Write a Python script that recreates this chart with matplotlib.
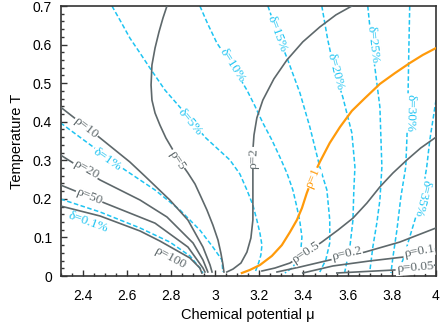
import numpy as np
import matplotlib
matplotlib.use("Agg")
import matplotlib.pyplot as plt
from matplotlib.ticker import MultipleLocator

# iso-density lines rho = const, (mu, T)
rho100_mu = [2.30, 2.479, 2.66, 2.75, 2.886, 2.931, 2.94]
rho100_T = [0.1815, 0.1556, 0.1167, 0.0907, 0.0467, 0.0207, 0.0078]
rho50_mu = [2.30, 2.501, 2.728, 2.877, 2.945, 2.954]
rho50_T = [0.236, 0.189, 0.137, 0.075, 0.0207, 0.0104]
rho20_mu = [2.30, 2.479, 2.66, 2.782, 2.90, 2.945, 2.967]
rho20_T = [0.3137, 0.249, 0.197, 0.153, 0.0856, 0.0415, 0.0104]
rho10_mu = [2.30, 2.479, 2.614, 2.682, 2.795, 2.877, 2.945, 2.977, 2.986]
rho10_T = [0.438, 0.358, 0.2956, 0.259, 0.197, 0.145, 0.075, 0.0285, 0.0104]
rho5_mu = [2.782, 2.764, 2.746, 2.728, 2.714, 2.71, 2.714, 2.728, 2.75, 2.777,
           2.809, 2.845, 2.877, 2.909, 2.936, 2.963, 2.99, 3.013, 3.026, 3.035, 3.04]
rho5_T = [0.70, 0.669, 0.633, 0.591, 0.547, 0.495, 0.456, 0.4226, 0.3915, 0.358,
          0.3267, 0.293, 0.267, 0.2385, 0.205, 0.171, 0.132, 0.0933, 0.0596, 0.0311, 0.0104]
rho2_mu = [3.619, 3.547, 3.474, 3.397, 3.325, 3.266, 3.216, 3.189, 3.176, 3.171,
           3.171, 3.171, 3.171, 3.162, 3.144, 3.117, 3.081, 3.053]
rho2_T = [0.70, 0.677, 0.6456, 0.607, 0.56, 0.511, 0.456, 0.41, 0.3656, 0.3267,
          0.262, 0.197, 0.145, 0.0985, 0.062, 0.0337, 0.018, 0.0104]
rho1_mu = [3.121, 3.157, 3.203, 3.257, 3.302, 3.339, 3.370, 3.393, 3.415, 3.443,
           3.474, 3.519, 3.565, 3.619, 3.678, 3.746, 3.814, 3.881, 3.940, 4.0]
rho1_T = [0.0078, 0.0156, 0.0285, 0.052, 0.080, 0.114, 0.145, 0.176, 0.215, 0.257,
          0.2956, 0.345, 0.386, 0.428, 0.461, 0.498, 0.526, 0.552, 0.573, 0.591]
rho05_mu = [3.212, 3.271, 3.339, 3.411, 3.483, 3.556, 3.624, 3.687, 3.746, 3.805,
            3.868, 3.931, 4.0]
rho05_T = [0.013, 0.0207, 0.0337, 0.0596, 0.088, 0.119, 0.150, 0.189, 0.231, 0.267,
           0.3007, 0.332, 0.360]
rho02_mu = [3.28, 3.384, 3.519, 3.678, 3.836, 4.0]
rho02_T = [0.0104, 0.0233, 0.0415, 0.062, 0.088, 0.1245]
rho01_mu = [3.397, 3.533, 3.70, 3.85, 4.0]
rho01_T = [0.0078, 0.026, 0.039, 0.049, 0.070]
rho005_mu = [3.551, 3.814, 4.0]
rho005_T = [0.0078, 0.0156, 0.0285]

# delta = const lines
d01_mu = [2.30, 2.479, 2.66, 2.795, 2.886, 2.931, 2.945]
d01_T = [0.1996, 0.166, 0.1245, 0.088, 0.052, 0.0207, 0.0078]
d1_mu = [2.30, 2.435, 2.592, 2.728, 2.841, 2.931, 2.99, 3.031, 3.035]
d1_T = [0.397, 0.340, 0.275, 0.223, 0.171, 0.119, 0.075, 0.0415, 0.0104]
d5_mu = [2.533, 2.574, 2.614, 2.66, 2.705, 2.773, 2.841, 2.895, 2.954, 3.013,
         3.067, 3.112, 3.144, 3.171, 3.189, 3.203, 3.212, 3.207, 3.198, 3.18]
d5_T = [0.70, 0.6585, 0.617, 0.578, 0.539, 0.482, 0.4375, 0.402, 0.360, 0.329,
        0.3007, 0.2645, 0.223, 0.184, 0.145, 0.111, 0.080, 0.054, 0.036, 0.0078]
d10_mu = [2.931, 2.967, 3.008, 3.076, 3.144, 3.18, 3.216, 3.257, 3.293, 3.325,
          3.352, 3.37, 3.384, 3.393, 3.388, 3.375, 3.348, 3.316]
d10_T = [0.70, 0.653, 0.604, 0.547, 0.482, 0.441, 0.397, 0.3526, 0.3085, 0.267,
         0.223, 0.179, 0.140, 0.101, 0.0674, 0.0415, 0.0207, 0.0078]
d15_mu = [3.239, 3.284, 3.329, 3.384, 3.429, 3.474, 3.506, 3.519, 3.519, 3.501, 3.474]
d15_T = [0.70, 0.625, 0.56, 0.4745, 0.386, 0.2826, 0.223, 0.145, 0.0856, 0.0415, 0.0104]
d20_mu = [3.483, 3.51, 3.542, 3.578, 3.619, 3.633, 3.628, 3.624, 3.61, 3.587]
d20_T = [0.70, 0.612, 0.529, 0.464, 0.371, 0.2826, 0.223, 0.145, 0.075, 0.0104]
d25_mu = [3.691, 3.709, 3.723, 3.746, 3.755, 3.746, 3.732, 3.714, 3.70]
d25_T = [0.70, 0.599, 0.542, 0.438, 0.2826, 0.197, 0.137, 0.075, 0.0104]
d30_mu = [3.881, 3.877, 3.872, 3.868, 3.863, 3.841, 3.823, 3.805, 3.796]
d30_T = [0.70, 0.586, 0.422, 0.3526, 0.2826, 0.205, 0.119, 0.049, 0.0078]
d35_mu = [4.0, 3.972, 3.958, 3.936, 3.881, 3.85, 3.827]
d35_T = [0.456, 0.3526, 0.2826, 0.205, 0.101, 0.0415, 0.0078]

GRAY = "#5e686b"
CYAN = "#1ec4f2"
ORANGE = "#ff9a0a"

plt.rcParams["font.family"] = ["Liberation Sans", "DejaVu Sans"]

fig = plt.figure(figsize=(4.43, 3.23), dpi=100)
ax = fig.add_axes([60.5 / 443, 1 - 276 / 323, 375.5 / 443, 270 / 323])
ax.set_xlim(2.3, 4.0)
ax.set_ylim(0, 0.7)

dash = (0, (3, 1.6))
for mu, T in [(d01_mu, d01_T), (d1_mu, d1_T), (d5_mu, d5_T), (d10_mu, d10_T),
              (d15_mu, d15_T), (d20_mu, d20_T), (d25_mu, d25_T), (d30_mu, d30_T),
              (d35_mu, d35_T)]:
    ax.plot(mu, T, color=CYAN, lw=1.1, ls=dash, zorder=2)
for mu, T in [(rho100_mu, rho100_T), (rho50_mu, rho50_T), (rho20_mu, rho20_T),
              (rho10_mu, rho10_T), (rho5_mu, rho5_T), (rho2_mu, rho2_T),
              (rho05_mu, rho05_T), (rho02_mu, rho02_T), (rho01_mu, rho01_T),
              (rho005_mu, rho005_T)]:
    ax.plot(mu, T, color=GRAY, lw=1.2, zorder=3)
ax.plot(rho1_mu, rho1_T, color=ORANGE, lw=1.6, zorder=3)


def put_label(mu, T, xy, text, color, flip=False, box=True):
    pts = ax.transData.transform(np.column_stack([mu, T]))
    p = ax.transData.transform(xy)
    i = int(np.argmin(np.hypot(*(pts - p).T)))
    a, b = pts[max(i - 1, 0)], pts[min(i + 1, len(pts) - 1)]
    ang = np.degrees(np.arctan2(b[1] - a[1], b[0] - a[0]))
    if ang > 90:
        ang -= 180
    if ang <= -90:
        ang += 180
    if flip:
        ang = ang - 180 if ang > 0 else ang + 180
    kw = dict(boxstyle="square,pad=0.05", fc="white", ec="none") if box else None
    ax.text(xy[0], xy[1], text, rotation=ang, rotation_mode="anchor",
            ha="center", va="center", color=color, fontsize=9.5,
            family=["Liberation Serif", "DejaVu Serif"], bbox=kw, zorder=4)


put_label(rho10_mu, rho10_T, (2.415, 0.384), "ρ=10", GRAY)
put_label(rho20_mu, rho20_T, (2.415, 0.275), "ρ=20", GRAY)
put_label(rho50_mu, rho50_T, (2.429, 0.205), "ρ=50", GRAY)
put_label(rho100_mu, rho100_T, (2.795, 0.0467), "ρ=100", GRAY, box=False)
put_label(rho5_mu, rho5_T, (2.827, 0.301), "ρ=5", GRAY)
put_label(rho2_mu, rho2_T, (3.175, 0.306), "ρ=2", GRAY)
put_label(rho1_mu, rho1_T, (3.443, 0.254), "ρ=1", ORANGE)
put_label(rho05_mu, rho05_T, (3.411, 0.0596), "ρ=0.5", GRAY)
put_label(rho02_mu, rho02_T, (3.596, 0.057), "ρ=0.2", GRAY)
put_label(rho01_mu, rho01_T, (3.922, 0.065), "ρ=0.1", GRAY)
put_label(rho005_mu, rho005_T, (3.904, 0.0207), "ρ=0.05", GRAY)
put_label(d01_mu, d01_T, (2.424, 0.14), "δ=0.1%", CYAN, box=False)
put_label(d1_mu, d1_T, (2.51, 0.301), "δ=1%", CYAN)
put_label(d5_mu, d5_T, (2.886, 0.399), "δ=5%", CYAN)
put_label(d10_mu, d10_T, (3.076, 0.547), "δ=10%", CYAN)
put_label(d15_mu, d15_T, (3.28, 0.627), "δ=15%", CYAN)
put_label(d20_mu, d20_T, (3.542, 0.529), "δ=20%", CYAN)
put_label(d25_mu, d25_T, (3.714, 0.599), "δ=25%", CYAN)
put_label(d30_mu, d30_T, (3.881, 0.4226), "δ=30%", CYAN, flip=True)
put_label(d35_mu, d35_T, (3.936, 0.202), "δ=35%", CYAN, flip=True)

ax.xaxis.set_minor_locator(MultipleLocator(0.05))
ax.yaxis.set_minor_locator(MultipleLocator(0.02))
ax.set_xticks([2.4, 2.6, 2.8, 3.0, 3.2, 3.4, 3.6, 3.8, 4.0])
ax.set_xticklabels(["2.4", "2.6", "2.8", "3", "3.2", "3.4", "3.6", "3.8", "4"])
ax.set_yticks([0, 0.1, 0.2, 0.3, 0.4, 0.5, 0.6, 0.7])
ax.set_yticklabels(["0", "0.1", "0.2", "0.3", "0.4", "0.5", "0.6", "0.7"])
ax.tick_params(which="both", direction="in", top=False, right=False,
               labelsize=10, color="#333333", width=1)
ax.tick_params(which="major", length=4)
ax.tick_params(axis="x", which="major", pad=9)
ax.tick_params(axis="y", which="major", pad=6)
ax.tick_params(which="minor", length=2.5)
for s in ax.spines.values():
    s.set_color("#333333")
    s.set_linewidth(1.2)

ax.set_xlabel("Chemical potential μ", fontsize=10.5, labelpad=4)
ax.set_ylabel("Temperature T", fontsize=10.5, labelpad=6)

fig.savefig("out.png", dpi=100)
